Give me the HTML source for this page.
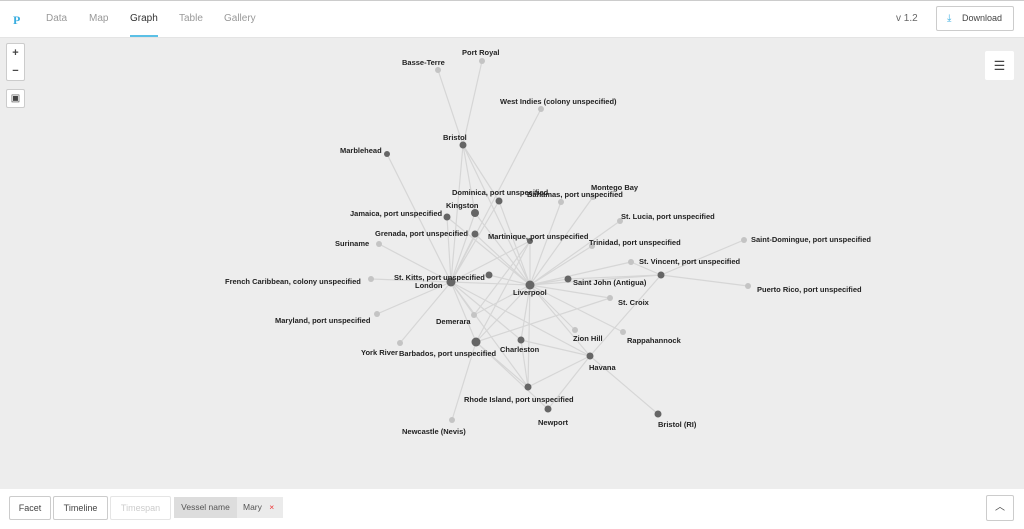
<!DOCTYPE html>
<html><head><meta charset="utf-8"><style>
*{margin:0;padding:0;box-sizing:border-box}
body{width:1024px;height:529px;overflow:hidden;background:#ededed;font-family:"Liberation Sans",sans-serif;position:relative}
.top{position:absolute;left:0;top:0;width:1024px;height:38px;background:#fff;border-top:1px solid #ccc;border-bottom:1px solid #e4e4e4}
.top span{position:absolute;top:12px;font-size:10px;color:#999}
.logo{left:13px;color:#3aaee0!important;font-weight:bold;font-family:"Liberation Serif",serif;font-size:12px!important}
.under{position:absolute;left:130px;top:35px;width:28px;height:2px;background:#5bc0e6}
.btn{position:absolute;background:#fff;border:1px solid #ccc;border-radius:2px;font-size:9px;color:#444;text-align:center}
.bottom{position:absolute;left:0;top:489px;width:1024px;height:40px;background:#fff}
svg{position:absolute;left:0;top:0}
svg text{font-size:7.5px;fill:#222;font-weight:600;font-family:"Liberation Sans",sans-serif}
</style></head><body>
<div class="top">
<span class="logo">P</span>
<span style="left:46px">Data</span><span style="left:89px">Map</span><span style="left:130px;color:#333">Graph</span><span style="left:179px">Table</span><span style="left:224px">Gallery</span>
<span style="left:896px;color:#666">v 1.2</span>
</div>
<div class="under"></div>
<div class="btn" style="left:936px;top:6px;width:78px;height:25px;line-height:23px;padding-left:14px">Download<span style="position:absolute;left:10px;top:0;color:#3aaee0;font-size:10px">⤓</span></div>
<div class="btn" style="left:6px;top:43px;width:19px;height:38px;font-size:11px;line-height:18px;font-weight:bold">+<br>−</div>
<div class="btn" style="left:6px;top:89px;width:19px;height:19px;font-size:10px;line-height:17px">▣</div>
<div class="btn" style="left:985px;top:51px;width:29px;height:29px;border:none;font-size:13px;line-height:29px">☰</div>
<svg width="1024" height="529">
<g stroke="#d6d6d6" stroke-width="1.2">
<path d="M530,285L463,145M530,285L499,201M530,285L561,202M530,285L593,197M530,285L620,221M530,285L592,246M530,285L530,241M530,285L631,262M530,285L568,279M530,285L661,275M530,285L610,298M530,285L575,330M530,285L623,332M530,285L590,356M530,285L521,340M530,285L476,342M530,285L474,315M530,285L489,275M530,285L451,282M530,285L475,234M530,285L475,213M530,285L528,387M530,285L447,217"/>
<path d="M463,145L438,70M463,145L482,61M451,282L463,145M451,282L387,154M451,282L475,213M451,282L447,217M451,282L475,234M451,282L499,201M451,282L379,244M451,282L371,279M451,282L377,314M451,282L400,343M451,282L476,342M451,282L474,315M451,282L521,340M451,282L590,356M451,282L541,109M451,282L530,241M451,282L528,387"/>
<path d="M661,275L744,240M661,275L748,286M661,275L631,262M661,275L590,356M568,279L661,275M476,342L610,298M476,342L452,420M476,342L528,387M476,342L548,409M521,340L528,387M521,340L590,356M528,387L590,356M548,409L590,356M590,356L658,414M463,145L499,201M463,145L475,213M476,342L530,241M474,315L530,241"/>
</g>
<g fill="#c4c4c4">
<circle cx="438" cy="70" r="3"/><circle cx="482" cy="61" r="3"/><circle cx="541" cy="109" r="3"/><circle cx="561" cy="202" r="3"/><circle cx="593" cy="197" r="3"/><circle cx="620" cy="221" r="3"/><circle cx="592" cy="246" r="3"/><circle cx="379" cy="244" r="3"/><circle cx="631" cy="262" r="3"/><circle cx="744" cy="240" r="3"/><circle cx="371" cy="279" r="3"/><circle cx="748" cy="286" r="3"/><circle cx="610" cy="298" r="3"/><circle cx="377" cy="314" r="3"/><circle cx="474" cy="315" r="3"/><circle cx="575" cy="330" r="3"/><circle cx="623" cy="332" r="3"/><circle cx="400" cy="343" r="3"/><circle cx="452" cy="420" r="3"/>
</g>
<g fill="#666">
<circle cx="463" cy="145" r="3.5"/><circle cx="387" cy="154" r="3"/><circle cx="499" cy="201" r="3.5"/><circle cx="475" cy="213" r="4"/><circle cx="447" cy="217" r="3.5"/><circle cx="475" cy="234" r="3.5"/><circle cx="530" cy="241" r="3"/><circle cx="661" cy="275" r="3.5"/><circle cx="489" cy="275" r="3.5"/><circle cx="451" cy="282" r="4.5"/><circle cx="530" cy="285" r="4.5"/><circle cx="568" cy="279" r="3.5"/><circle cx="476" cy="342" r="4.5"/><circle cx="521" cy="340" r="3.5"/><circle cx="590" cy="356" r="3.5"/><circle cx="528" cy="387" r="3.5"/><circle cx="548" cy="409" r="3.5"/><circle cx="658" cy="414" r="3.5"/>
</g>
<text x="402" y="65">Basse-Terre</text><text x="462" y="55">Port Royal</text><text x="500" y="104">West Indies (colony unspecified)</text>
<text x="443" y="140">Bristol</text><text x="340" y="153">Marblehead</text><text x="452" y="195">Dominica, port unspecified</text>
<text x="527" y="197">Bahamas, port unspecified</text><text x="591" y="190">Montego Bay</text><text x="446" y="208">Kingston</text>
<text x="350" y="216">Jamaica, port unspecified</text><text x="621" y="219">St. Lucia, port unspecified</text><text x="375" y="236">Grenada, port unspecified</text>
<text x="488" y="239">Martinique, port unspecified</text><text x="589" y="245">Trinidad, port unspecified</text><text x="335" y="246">Suriname</text>
<text x="639" y="264">St. Vincent, port unspecified</text><text x="751" y="242">Saint-Domingue, port unspecified</text><text x="394" y="280">St. Kitts, port unspecified</text>
<text x="415" y="288">London</text><text x="513" y="295">Liverpool</text><text x="573" y="285">Saint John (Antigua)</text>
<text x="225" y="284">French Caribbean, colony unspecified</text><text x="757" y="292">Puerto Rico, port unspecified</text><text x="618" y="305">St. Croix</text>
<text x="275" y="323">Maryland, port unspecified</text><text x="436" y="324">Demerara</text><text x="573" y="341">Zion Hill</text>
<text x="627" y="343">Rappahannock</text><text x="361" y="355">York River</text><text x="399" y="356">Barbados, port unspecified</text>
<text x="500" y="352">Charleston</text><text x="589" y="370">Havana</text><text x="464" y="402">Rhode Island, port unspecified</text>
<text x="538" y="425">Newport</text><text x="658" y="427">Bristol (RI)</text><text x="402" y="434">Newcastle (Nevis)</text>
</svg>
<div class="bottom">
<div class="btn" style="left:9px;top:7px;width:42px;height:24px;line-height:22px">Facet</div>
<div class="btn" style="left:53px;top:7px;width:55px;height:24px;line-height:22px">Timeline</div>
<div class="btn" style="left:110px;top:7px;width:61px;height:24px;line-height:22px;color:#ccc;border-color:#e5e5e5">Timespan</div>
<div style="position:absolute;left:174px;top:8px;width:63px;height:21px;background:#ddd;font-size:8.5px;color:#555;line-height:21px;text-align:center">Vessel name</div>
<div style="position:absolute;left:237px;top:8px;width:46px;height:21px;background:#ebebeb;font-size:8.5px;color:#555;line-height:21px;padding-left:6px">Mary <span style="color:#e33;margin-left:5px">×</span></div>
<div class="btn" style="left:986px;top:6px;width:28px;height:26px;line-height:24px;font-size:10px">︿</div>
</div>
</body></html>
